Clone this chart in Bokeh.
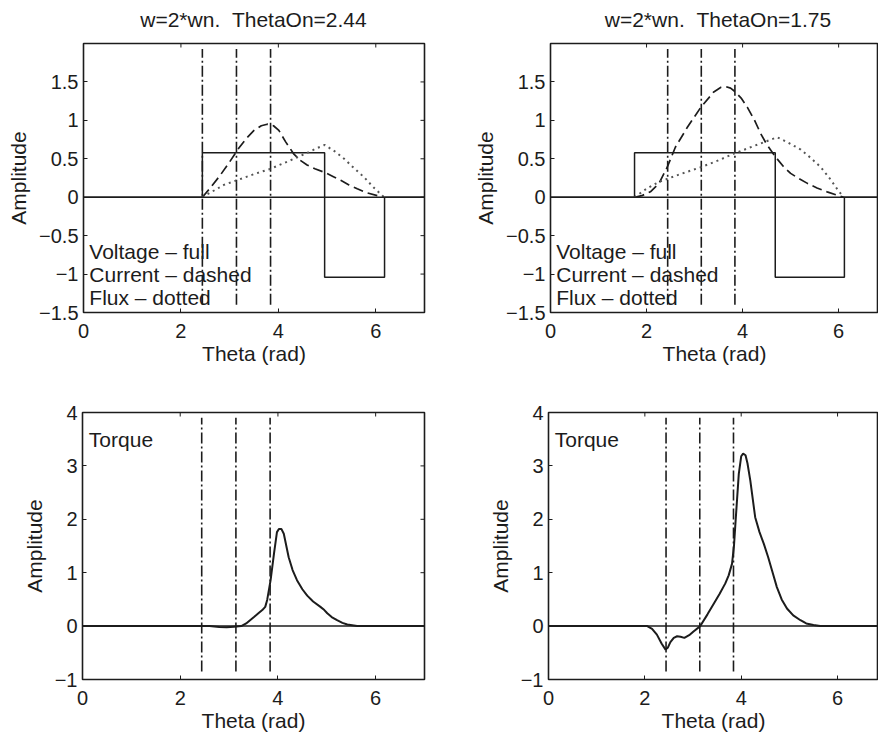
import math
from bokeh.plotting import figure
from bokeh.layouts import column, row
from bokeh.models import Range1d, FixedTicker, Span, Div
from bokeh.core.properties import value
from bokeh.embed import file_html
from bokeh.resources import INLINE

# ---------------- data ----------------
titles = ["w=2*wn.&nbsp;&nbsp;ThetaOn=2.44", "w=2*wn.&nbsp;&nbsp;ThetaOn=1.75"]
x_label = "Theta (rad)"
y_label = "Amplitude"
legend_lines = ["Voltage \u2013 full", "Current \u2013 dashed", "Flux \u2013 dotted"]
legend_y = [-0.70, -1.00, -1.31]
legend_x = [0.12, 0.12, 0.12]
torque_label = ["Torque"]
torque_label_x = [0.13]
torque_label_y = [3.5]

x_ticks = [0, 2, 4, 6]
x_tick_labels = ["0", "2", "4", "6"]
top_y_ticks = [-1.5, -1, -0.5, 0, 0.5, 1, 1.5]
top_y_tick_labels = ["\u22121.5", "\u22121", "\u22120.5", "0", "0.5", "1", "1.5"]
bot_y_ticks = [-1, 0, 1, 2, 3, 4]
bot_y_tick_labels = ["\u22121", "0", "1", "2", "3", "4"]

zero_level = 0.0
marker_x = [2.44, 3.14, 3.84]
marker_top_y0 = [-1.40, -1.40, -1.40]
marker_top_y1 = [1.93, 1.93, 1.93]
marker_bot_y0 = [-0.85, -0.85, -0.85]
marker_bot_y1 = [3.90, 3.90, 3.90]

# ThetaOn = 2.44
volt1_x = [0, 2.44, 2.44, 4.95, 4.95, 6.18, 6.18, 7]
volt1_y = [0, 0, 0.58, 0.58, -1.04, -1.04, 0, 0]
cur1_x = [2.44, 2.6, 2.8, 3.0, 3.19, 3.35, 3.5, 3.65, 3.77, 3.9, 4.01, 4.15, 4.32, 4.45,
          4.59, 4.75, 4.96, 5.12, 5.28, 5.45, 5.62, 5.8, 6.03, 6.17]
cur1_y = [0.0, 0.12, 0.28, 0.46, 0.64, 0.77, 0.87, 0.93, 0.95, 0.93, 0.87, 0.72, 0.56, 0.48,
          0.42, 0.37, 0.32, 0.27, 0.22, 0.16, 0.11, 0.06, 0.02, 0.0]
flux1_x = [2.44, 2.88, 3.19, 3.5, 3.84, 4.1, 4.32, 4.6, 4.8, 4.95, 5.15, 5.35, 5.55, 5.76, 5.95, 6.17]
flux1_y = [0.0, 0.16, 0.23, 0.30, 0.37, 0.44, 0.50, 0.58, 0.64, 0.68, 0.60, 0.50, 0.38, 0.26, 0.13, 0.0]
torq1_x = [0, 2.6, 2.8, 2.95, 3.1, 3.25, 3.35, 3.51, 3.6, 3.68, 3.74, 3.78, 3.85, 3.92, 3.98,
           4.02, 4.07, 4.12, 4.22, 4.3, 4.39, 4.5, 4.6, 4.72, 4.87, 4.95, 5.01, 5.1, 5.21,
           5.32, 5.42, 5.62, 7]
torq1_y = [0, 0, -0.015, -0.02, -0.01, 0.0, 0.05, 0.17, 0.24, 0.30, 0.36, 0.49, 0.86, 1.36, 1.76,
           1.82, 1.82, 1.73, 1.29, 1.05, 0.86, 0.69, 0.57, 0.46, 0.36, 0.30, 0.24, 0.17, 0.11,
           0.06, 0.03, 0.0, 0]

# ThetaOn = 1.75
volt2_x = [0, 1.75, 1.75, 4.68, 4.68, 6.12, 6.12, 7]
volt2_y = [0, 0, 0.58, 0.58, -1.04, -1.04, 0, 0]
cur2_x = [1.75, 1.9, 2.08, 2.26, 2.43, 2.6, 2.85, 3.13, 3.4, 3.55, 3.65, 3.75, 3.85, 3.97,
          4.1, 4.25, 4.375, 4.5, 4.69, 4.85, 5.0, 5.18, 5.35, 5.55, 5.76, 5.95, 6.11]
cur2_y = [0.0, 0.02, 0.07, 0.18, 0.39, 0.65, 0.91, 1.17, 1.37, 1.43, 1.44, 1.42, 1.37, 1.29,
          1.17, 1.0, 0.83, 0.69, 0.52, 0.40, 0.31, 0.24, 0.18, 0.12, 0.07, 0.03, 0.0]
flux2_x = [1.75, 2.0, 2.26, 2.7, 3.13, 3.5, 3.83, 4.25, 4.72, 4.95, 5.21, 5.42, 5.63, 5.82, 6.0, 6.11]
flux2_y = [0.0, 0.11, 0.20, 0.30, 0.39, 0.48, 0.57, 0.67, 0.78, 0.71, 0.62, 0.51, 0.39, 0.24, 0.08, 0.0]
torq2_x = [0, 2.05, 2.15, 2.25, 2.35, 2.43, 2.48, 2.53, 2.6, 2.67, 2.74, 2.82, 2.92, 3.01, 3.15,
           3.3, 3.43, 3.55, 3.67, 3.74, 3.81, 3.85, 3.88, 3.95, 4.0, 4.04, 4.09, 4.13, 4.19,
           4.29, 4.38, 4.47, 4.56, 4.64, 4.74, 4.84, 4.95, 5.08, 5.23, 5.35, 5.5, 5.64, 7]
torq2_y = [0, 0, -0.05, -0.16, -0.33, -0.44, -0.40, -0.30, -0.22, -0.19, -0.20, -0.22, -0.17, -0.10, 0.0,
           0.22, 0.42, 0.60, 0.80, 0.95, 1.17, 1.50, 1.92, 2.85, 3.18, 3.23, 3.20, 3.05, 2.72,
           2.04, 1.76, 1.54, 1.29, 1.04, 0.73, 0.50, 0.33, 0.20, 0.11, 0.05, 0.02, 0.0, 0]

# ---------------- styling helpers ----------------
FONT = "Liberation Sans"
INK = "#1c1c1c"
COL_W = 439
TITLE_H = 34
TOP_H = 372 - TITLE_H
BOT_H = 734 - 372


def style_axis(ax, ticks, labels):
    ax.ticker = FixedTicker(ticks=ticks)
    ax.major_label_overrides = {t: l for t, l in zip(ticks, labels)}
    ax.minor_tick_line_color = None
    ax.major_tick_in = 4
    ax.major_tick_out = 0
    ax.major_tick_line_color = INK
    ax.major_tick_line_width = 1
    ax.axis_line_color = None
    ax.major_label_text_font = FONT
    ax.major_label_text_color = INK
    ax.major_label_text_font_size = "20px"
    ax.axis_label_text_font = FONT
    ax.axis_label_text_font_size = "21px"
    ax.axis_label_text_font_style = "normal"
    ax.axis_label_text_color = INK


def make_fig(h, bl, br, bt, bb, x_end, y_rng, yticks, ylabels, right_ticks):
    p = figure(width=COL_W, height=h, x_range=Range1d(0, x_end), y_range=Range1d(*y_rng),
               output_backend="svg", toolbar_location=None,
               min_border_left=bl, min_border_right=br, min_border_top=bt, min_border_bottom=bb)
    p.grid.visible = False
    p.background_fill_color = "white"
    p.border_fill_color = "white"
    p.outline_line_color = INK
    p.outline_line_width = 1.6

    style_axis(p.xaxis[0], x_ticks, x_tick_labels)
    style_axis(p.yaxis[0], yticks, ylabels)
    p.xaxis[0].axis_label = x_label
    p.yaxis[0].axis_label = y_label
    p.xaxis[0].major_label_standoff = 11
    p.xaxis[0].axis_label_standoff = 1
    p.yaxis[0].major_label_standoff = 5
    p.yaxis[0].axis_label_standoff = 6

    # inward tick marks on the top edge (and the right edge where it is visible)
    n = len(x_ticks)
    p.ray(x=x_ticks, y=[y_rng[1]] * n, length=4, length_units="screen",
          angle=-math.pi / 2, line_color=INK, line_width=1)
    if right_ticks:
        m = len(yticks)
        p.ray(x=[x_end] * m, y=yticks, length=4, length_units="screen",
              angle=math.pi, line_color=INK, line_width=1)
    return p


def title_div(text, left_pad, frame_w):
    html = ('<div style="margin-left:%dpx;width:%dpx;text-align:center;padding-top:8px;'
            'font-family:\'%s\';font-size:21px;line-height:24px;color:%s;white-space:nowrap;">%s</div>'
            % (left_pad, frame_w, FONT, INK, text))
    return Div(text=html, width=COL_W, height=TITLE_H, margin=(0, 0, 0, 0))


def zero_line(p):
    p.add_layout(Span(location=zero_level, dimension="width", line_color=INK, line_width=1.5))


def markers(p, y0, y1):
    p.segment(x0=marker_x, y0=y0, x1=marker_x, y1=y1, line_color=INK, line_width=1.6,
              line_dash="11 3 2 3")


def legend_text(p, xs, ys, texts):
    p.text(x=xs, y=ys, text=texts, text_font=value(FONT), text_font_size="21px",
           text_color=INK, text_align="left", text_baseline="middle")


# ---------------- titles ----------------
d1 = title_div(titles[0], 83, 341)
d2 = title_div(titles[1], 111, 336)

# ---------------- top-left ----------------
p1 = make_fig(TOP_H, 83, 15, 43 - TITLE_H, 372 - 312, 7, (-1.5, 2), top_y_ticks, top_y_tick_labels, True)
zero_line(p1)
markers(p1, marker_top_y0, marker_top_y1)
p1.line(volt1_x, volt1_y, line_color=INK, line_width=1.5)
p1.line(cur1_x, cur1_y, line_color=INK, line_width=1.7, line_dash="10 5")
p1.line(flux1_x, flux1_y, line_color="#555555", line_width=2, line_dash="2 4")
legend_text(p1, legend_x, legend_y, legend_lines)

# ---------------- top-right ----------------
p2 = make_fig(TOP_H, 111, 0, 43 - TITLE_H, 372 - 312, 6.83, (-1.5, 2), top_y_ticks, top_y_tick_labels, False)
zero_line(p2)
markers(p2, marker_top_y0, marker_top_y1)
p2.line(volt2_x, volt2_y, line_color=INK, line_width=1.5)
p2.line(cur2_x, cur2_y, line_color=INK, line_width=1.7, line_dash="10 5")
p2.line(flux2_x, flux2_y, line_color="#555555", line_width=2, line_dash="2 4")
legend_text(p2, legend_x, legend_y, legend_lines)

# ---------------- bottom-left ----------------
p3 = make_fig(BOT_H, 82, 15, 412 - 372, 54, 7, (-1, 4), bot_y_ticks, bot_y_tick_labels, True)
zero_line(p3)
markers(p3, marker_bot_y0, marker_bot_y1)
p3.line(torq1_x, torq1_y, line_color=INK, line_width=2)
legend_text(p3, torque_label_x, torque_label_y, torque_label)

# ---------------- bottom-right ----------------
p4 = make_fig(BOT_H, 109, 0, 412 - 372, 54, 6.85, (-1, 4), bot_y_ticks, bot_y_tick_labels, False)
zero_line(p4)
markers(p4, marker_bot_y0, marker_bot_y1)
p4.line(torq2_x, torq2_y, line_color=INK, line_width=2)
legend_text(p4, torque_label_x, torque_label_y, torque_label)

layout = column(row(d1, d2, spacing=0), row(p1, p2, spacing=0), row(p3, p4, spacing=0), spacing=0)
open("out.html", "w").write(file_html(layout, INLINE))
